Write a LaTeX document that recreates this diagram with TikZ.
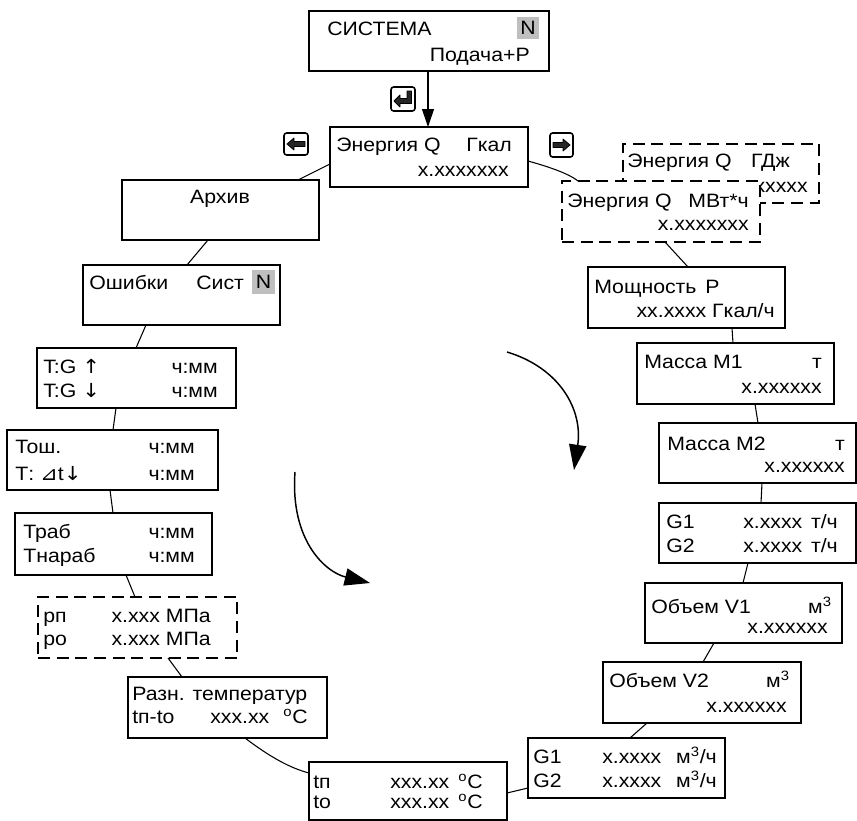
\documentclass[tikz,border=0pt]{standalone}
\usepackage{fontspec}
\setmainfont{Liberation Sans}[FakeStretch=1.1]
\newfontfamily\dejavu{DejaVu Sans}[FakeStretch=1.1]
\usetikzlibrary{fit,calc,arrows.meta}
\begin{document}
\begin{tikzpicture}[x=0.75pt,y=-0.75pt,
  font=\fontsize{14.5}{17}\selectfont,
  box/.style={draw, line width=1.1pt, inner sep=0pt, outer sep=0pt, fill=white},
  dbox/.style={draw, line width=1.6pt, dash pattern=on 9pt off 5pt, inner sep=0pt, outer sep=0pt, fill=white},
  tl/.style={inner sep=0pt, anchor=base west},
  tr/.style={inner sep=0pt, anchor=base east},
  hl/.style={fill=black!25, inner sep=0pt, outer sep=0pt},
  con/.style={line width=0.8pt},
  icon/.style={draw, line width=1.2pt, rounded corners=2pt, inner sep=0pt, outer sep=0pt},
  iconarrow/.style={draw, fill=black!85, line width=0.6pt, line join=round},
  bigarrow/.style={line width=1.1pt, -{Triangle[length=19pt,width=13pt]}}]
\useasboundingbox (0,0) rectangle (857,821);

% ---------- top box
\node[box, fit={(309,11)(549,71)}] (sys) {};
\node[hl, fit={(517,17)(539,39)}] (sysN) {};
\node[inner sep=0pt] (sysNt) at (sysN.center) {N};
\node[tl] (sysA) at (327,35) {СИСТЕМА};
\node[tr] (sysB) at (530,61) {Подача+Р};

% ---------- energy Gcal
\node[box, fit={(330,127)(528,187)}] (energy) {};
\node[tl] (energyA) at (336,151) {Энергия Q};
\node[tl] (energyB) at (466,151) {Гкал};
\node[tr] (energyC) at (509,176) {x.xxxxxxx};

% ---------- icons
\node[icon, fit={(391,87)(415,111)}] (ienter) {};
\path[iconarrow] (394,101) -- (400,95) -- (400,98.5) -- (407,98.5) -- (407,91) -- (411.5,91) -- (411.5,103.5) -- (400,103.5) -- (400,107) -- cycle;
\node[icon, fit={(284,133)(308,155)}] (ileft) {};
\path[iconarrow] (287,144) -- (294,138) -- (294,141.5) -- (305,141.5) -- (305,146.5) -- (294,146.5) -- (294,150) -- cycle;
\node[icon, fit={(550,133)(573,157)}] (iright) {};
\path[iconarrow] (570,145) -- (563,139) -- (563,142.5) -- (553,142.5) -- (553,147.5) -- (563,147.5) -- (563,151) -- cycle;

% ---------- GJ (behind) and MWh
\node[dbox, fit={(623,144)(819,203)}] (gdj) {};
\node[tl] (gdjA) at (627,167) {Энергия Q};
\node[tr] (gdjB) at (790,167) {ГДж};
\node[tr] (gdjC) at (808,192) {xxxxx};
\node[dbox, fit={(562,181)(760,242)}] (mwh) {};
\node[tl] (mwhA) at (567,207) {Энергия Q};
\node[tr] (mwhB) at (749,207) {МВт*ч};
\node[tr] (mwhC) at (749,230) {x.xxxxxxx};

% ---------- right column
\node[box, fit={(588,267)(785,328)}] (pow) {};
\node[tl] (powA) at (594,293) {Мощность};
\node[tl] (powB) at (705,293) {Р};
\node[tr] (powC) at (775,317) {xx.xxxx Гкал/ч};

\node[box, fit={(637,343)(834,404)}] (m1) {};
\node[tl] (m1A) at (644,368) {Масса М1};
\node[tr] (m1B) at (822,368) {т};
\node[tr] (m1C) at (822,393) {x.xxxxxx};

\node[box, fit={(659,423)(856,483)}] (m2) {};
\node[tl] (m2A) at (667,450) {Масса М2};
\node[tr] (m2B) at (845,450) {т};
\node[tr] (m2C) at (845,472) {x.xxxxxx};

\node[box, fit={(659,503)(856,563)}] (gt) {};
\node[tl] (gtA) at (666,528) {G1};
\node[tl] (gtB) at (743,528) {x.xxxx};
\node[tr] (gtC) at (838,528) {т/ч};
\node[tl] (gtD) at (666,552) {G2};
\node[tl] (gtE) at (743,552) {x.xxxx};
\node[tr] (gtF) at (838,552) {т/ч};

\node[box, fit={(645,583)(842,643)}] (v1) {};
\node[tl] (v1A) at (651,613) {Объем V1};
\node[tr] (v1B) at (832,613) {м\textsuperscript{3}};
\node[tr] (v1C) at (828,633) {x.xxxxxx};

\node[box, fit={(603,662)(801,723)}] (v2) {};
\node[tl] (v2A) at (609,687) {Объем V2};
\node[tr] (v2B) at (790,687) {м\textsuperscript{3}};
\node[tr] (v2C) at (787,712) {x.xxxxxx};

\node[box, fit={(528,738)(725,798)}] (gm) {};
\node[tl] (gmA) at (533,763) {G1};
\node[tl] (gmB) at (602,763) {x.xxxx};
\node[tr] (gmC) at (717,763) {м\textsuperscript{3}/ч};
\node[tl] (gmD) at (533,787) {G2};
\node[tl] (gmE) at (602,787) {x.xxxx};
\node[tr] (gmF) at (717,787) {м\textsuperscript{3}/ч};

% ---------- bottom
\node[box, fit={(309,762)(507,820)}] (tp) {};
\node[tl] (tpA) at (313,788) {tп};
\node[tl] (tpB) at (390,788) {xxx.xx};
\node[tr] (tpC) at (483,788) {\textsuperscript{o}C};
\node[tl] (tpD) at (313,808) {to};
\node[tl] (tpE) at (390,808) {xxx.xx};
\node[tr] (tpF) at (483,808) {\textsuperscript{o}C};

\node[box, fit={(128,677)(327,738)}] (razn) {};
\node[tl] (raznA) at (132,700) {Разн. температур};
\node[tl] (raznB) at (132,723) {tп-to};
\node[tl] (raznC) at (210,723) {xxx.xx};
\node[tr] (raznD) at (308,723) {\textsuperscript{o}C};

% ---------- left column
\node[dbox, fit={(38,597)(237,658)}] (rp) {};
\node[tl] (rpA) at (43,622) {рп};
\node[tr] (rpB) at (211,622) {x.xxx МПа};
\node[tl] (rpC) at (43,645) {ро};
\node[tr] (rpD) at (211,645) {x.xxx МПа};

\node[box, fit={(15,513)(212,575)}] (trab) {};
\node[tl] (trabA) at (23,538) {Траб};
\node[tr] (trabB) at (195,538) {ч:мм};
\node[tl] (trabC) at (23,562) {Тнараб};
\node[tr] (trabD) at (195,562) {ч:мм};

\node[box, fit={(7,430)(218,490)}] (tosh) {};
\node[tl] (toshA) at (15,453) {Тош.};
\node[tr] (toshB) at (195,453) {ч:мм};
\node[tl] (toshC) at (15,480) {Т: {\dejavu ⊿}t{\dejavu ↓}};
\node[tr] (toshD) at (195,480) {ч:мм};

\node[box, fit={(37,348)(236,408)}] (tg) {};
\node[tl] (tgA) at (43,373) {T:G {\dejavu ↑}};
\node[tr] (tgB) at (218,373) {ч:мм};
\node[tl] (tgC) at (43,397) {T:G {\dejavu ↓}};
\node[tr] (tgD) at (218,397) {ч:мм};

\node[box, fit={(83,265)(280,325)}] (err) {};
\node[hl, fit={(252,270)(275,294)}] (errN) {};
\node[inner sep=0pt] (errNt) at (errN.center) {N};
\node[tl] (errA) at (89,289) {Ошибки};
\node[tl] (errB) at (196,289) {Сист};

\node[box, fit={(122,180)(319,240)}] (arch) {};
\node[inner sep=0pt, anchor=base] (archA) at (220,203) {Архив};

% ---------- connectors
\draw[con, -{Triangle[length=13.5pt,width=9pt]}] ($(sys.south west)+(119,0)$) -- ($(energy.north west)+(98,0)$);
\draw[con] ($(energy.north west)+(0,37)$) -- ($(arch.north west)+(176,0)$);
\draw[con] ($(energy.north east)+(0,34)$) .. controls +(18,5) and +(-10,-8) .. ($(mwh.north west)+(16,0)$);
\draw[con] ($(mwh.south west)+(103,0)$) -- ($(pow.north west)+(100,0)$);
\draw[con] ($(pow.south west)+(144,0)$) -- ($(m1.north west)+(96,0)$);
\draw[con] ($(m1.south west)+(118,0)$) -- ($(m2.north west)+(99,0)$);
\draw[con] ($(m2.south west)+(103,0)$) -- ($(gt.north west)+(102,0)$);
\draw[con] ($(gt.south west)+(89,0)$) -- ($(v1.north west)+(98,0)$);
\draw[con] ($(v1.south west)+(69,0)$) -- ($(v2.north west)+(100,0)$);
\draw[con] ($(v2.south west)+(44,0)$) -- ($(gm.north west)+(102,0)$);
\draw[con] ($(gm.north west)+(0,50)$) -- ($(tp.north east)+(0,31)$);
\draw[con] ($(razn.south west)+(117,0)$) .. controls +(25,19) and +(-19,-5) .. ($(tp.north west)+(0,11)$);
\draw[con] ($(rp.south west)+(130,0)$) -- ($(razn.north west)+(54,0)$);
\draw[con] ($(trab.south west)+(111,0)$) -- ($(rp.north west)+(97,0)$);
\draw[con] ($(tosh.south west)+(103,0)$) -- ($(trab.north west)+(98,0)$);
\draw[con] ($(tg.south west)+(79,0)$) -- ($(tosh.north west)+(106,0)$);
\draw[con] ($(err.south west)+(63,0)$) -- ($(tg.north west)+(99,0)$);
\draw[con] ($(arch.south west)+(86,0)$) -- ($(err.north west)+(104,0)$);

% ---------- rotation arrows
\draw[bigarrow] (507,352) .. controls (560,368) and (583,410) .. (574,470);
\draw[bigarrow] (295,472) .. controls (290,540) and (325,572) .. (370,583);
\end{tikzpicture}
\end{document}
